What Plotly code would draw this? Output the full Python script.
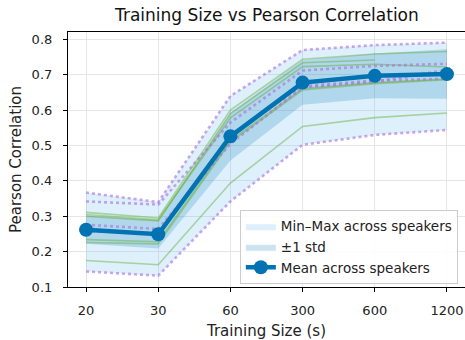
import plotly.graph_objects as go

sizes = ["20", "30", "60", "300", "600", "1200"]
mean_vals = [0.262, 0.249, 0.526, 0.678, 0.697, 0.702]
std_vals = [0.040, 0.040, 0.068, 0.063, 0.063, 0.070]
min_vals = [0.144, 0.132, 0.342, 0.502, 0.530, 0.544]
max_vals = [0.367, 0.340, 0.640, 0.770, 0.784, 0.791]

# individual speakers (solid green / dotted purple)
green_speakers = [
    [0.311, 0.295, 0.600, 0.744, 0.759, 0.766],
    [0.300, 0.287, 0.590, 0.734, 0.742, None],
    [0.305, 0.290, 0.578, 0.723, 0.730, 0.722],
    [0.234, 0.228, 0.515, 0.661, 0.678, 0.688],
    [0.226, 0.222, 0.510, 0.657, 0.675, 0.686],
    [0.175, 0.163, 0.394, 0.554, 0.579, 0.592],
]
purple_speakers = [
    [0.367, 0.340, 0.640, 0.770, 0.784, 0.791],
    [0.342, 0.333, 0.565, 0.712, 0.725, 0.731],
    [0.276, 0.264, 0.505, 0.664, 0.680, 0.714],
    [0.258, 0.252, 0.530, 0.668, 0.684, 0.689],
    [0.144, 0.132, 0.342, 0.502, 0.530, 0.544],
]

idx = list(range(len(sizes)))
std_lo = [m - s for m, s in zip(mean_vals, std_vals)]
std_hi = [m + s for m, s in zip(mean_vals, std_vals)]

fig = go.Figure()

# Min-Max band
fig.add_trace(go.Scatter(x=idx, y=min_vals, mode="lines", line=dict(width=0),
                         showlegend=False, hoverinfo="skip"))
fig.add_trace(go.Scatter(x=idx, y=max_vals, mode="lines", line=dict(width=0),
                         fill="tonexty", fillcolor="rgba(86,180,233,0.2)",
                         name="Min\u2013Max across speakers"))
# std band
fig.add_trace(go.Scatter(x=idx, y=std_lo, mode="lines", line=dict(width=0),
                         showlegend=False, hoverinfo="skip"))
fig.add_trace(go.Scatter(x=idx, y=std_hi, mode="lines", line=dict(width=0),
                         fill="tonexty", fillcolor="rgba(1,115,178,0.2)",
                         name="\u00b11 std"))

for s in green_speakers:
    fig.add_trace(go.Scatter(x=idx, y=s, mode="lines",
                             line=dict(color="rgba(100,170,50,0.45)", width=1.6),
                             showlegend=False, connectgaps=False))
for s in purple_speakers:
    fig.add_trace(go.Scatter(x=idx, y=s, mode="lines",
                             line=dict(color="rgba(170,110,225,0.6)", width=2.6, dash="dot"),
                             showlegend=False))

fig.add_trace(go.Scatter(x=idx, y=mean_vals, mode="lines+markers",
                         line=dict(color="#0173b2", width=4.5),
                         marker=dict(color="#0173b2", size=14),
                         name="Mean across speakers"))

fig.update_layout(
    width=465, height=340,
    margin=dict(l=68, r=0, t=32, b=53),
    paper_bgcolor="white", plot_bgcolor="white",
    font=dict(family="DejaVu Sans", size=12, color="#222"),
    title=dict(text="Training Size vs Pearson Correlation", x=0.574, xanchor="center",
               y=0.955, yanchor="middle", font=dict(size=17, color="#111")),
    legend=dict(x=0.982, y=0.012, xanchor="right", yanchor="bottom",
                traceorder="normal",
                bgcolor="rgba(255,255,255,0.85)", bordercolor="#cccccc", borderwidth=1,
                font=dict(size=13.5, color="#222"), tracegroupgap=0, itemwidth=30),
)
fig.update_xaxes(
    range=[-0.25, 5.25], tickmode="array", tickvals=idx, ticktext=sizes,
    showgrid=True, gridcolor="#e6e6e6", gridwidth=1,
    showline=True, linecolor="black", linewidth=1.2, mirror=True,
    ticks="outside", ticklen=4, tickcolor="black", zeroline=False,
    automargin=False, ticklabelstandoff=7,
    title=dict(text="Training Size (s)", font=dict(size=15), standoff=9),
    tickfont=dict(size=13),
)
fig.update_yaxes(
    range=[0.1, 0.821], tickmode="array", tickvals=[0.1, 0.2, 0.3, 0.4, 0.5, 0.6, 0.7, 0.8],
    ticktext=["0.1", "0.2", "0.3", "0.4", "0.5", "0.6", "0.7", "0.8"],
    showgrid=True, gridcolor="#e6e6e6", gridwidth=1,
    showline=True, linecolor="black", linewidth=1.2, mirror=True,
    ticks="outside", ticklen=4, tickcolor="black", zeroline=False,
    automargin=False, ticklabelstandoff=8,
    title=dict(text="Pearson Correlation", font=dict(size=15), standoff=6),
    tickfont=dict(size=13),
)

fig.write_html("out.html", config={"displayModeBar": False},
               post_script="document.body.style.margin='0px';document.body.style.overflow='hidden';")
